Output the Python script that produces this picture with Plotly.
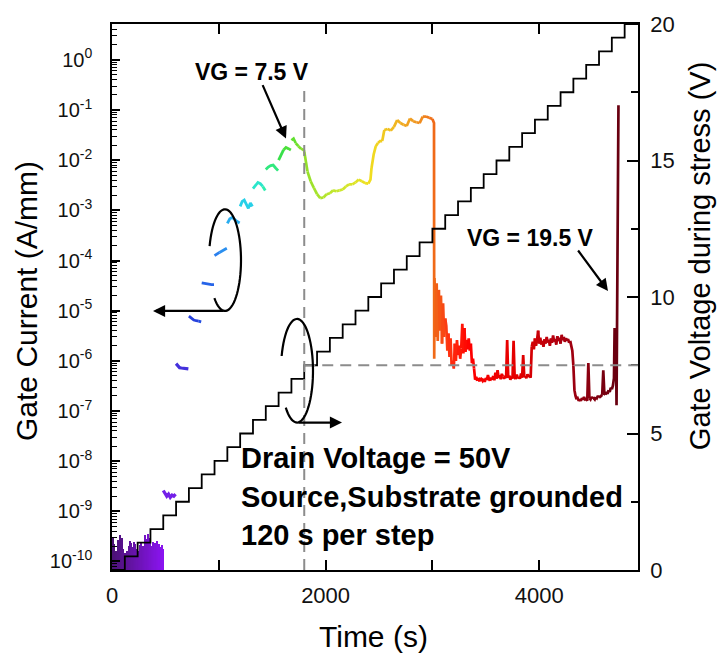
import numpy as np
import plotly.graph_objects as go

# ---------------- data ----------------
# staircase of the gate voltage during stress (right axis)
step_time = [0, 120, 240, 360, 480, 600, 720, 840, 960, 1080, 1200, 1320, 1440, 1560,
             1680, 1800, 1920, 2040, 2160, 2280, 2400, 2520, 2640, 2760, 2880, 3000,
             3120, 3240, 3360, 3480, 3600, 3720, 3840, 3960, 4080, 4200, 4320, 4440,
             4560, 4680, 4800, 4925]
step_voltage = [0, 0.5, 1.0, 1.5, 2.0, 2.5, 3.0, 3.5, 4.0, 4.5, 5.0, 5.5, 6.0, 6.5,
                7.0, 7.5, 8.0, 8.5, 9.0, 9.5, 10.0, 10.5, 11.0, 11.5, 12.0, 12.5,
                13.0, 13.5, 14.0, 14.5, 15.0, 15.5, 16.0, 16.5, 17.0, 17.5, 18.0, 18.5,
                19.0, 19.5, 20.0, 20.0]

# noise floor of the gate current, first 480 s (A/mm)
noise_time = list(range(0, 481, 12))
noise_current = [2.6e-10, 2.9e-10, 2.2e-10, 1.6e-10, 1.4e-10, 2.7e-10, 3.3e-10, 2.4e-10,
                 3.0e-10, 1.8e-10, 1.5e-10, 1.3e-10, 1.6e-10, 2.0e-10, 2.6e-10, 2.3e-10,
                 1.9e-10, 2.5e-10, 2.2e-10, 1.5e-10, 1.8e-10, 1.6e-10, 2.1e-10, 2.4e-10,
                 2.0e-10, 1.7e-10, 3.4e-10, 2.8e-10, 3.6e-10, 2.5e-10, 2.9e-10, 2.0e-10,
                 2.4e-10, 1.7e-10, 2.3e-10, 2.6e-10, 2.0e-10, 2.2e-10, 1.9e-10, 2.1e-10,
                 1.8e-10]

# separate pieces of gate current, one per voltage step (start time of the step)
early_start = [480, 600, 720, 840, 960, 1080, 1200, 1320, 1440, 1560]
early_current = [
    [2.6e-9, 2.3e-9, 2.0e-9, 2.2e-9, 1.9e-9, 2.1e-9, 2.0e-9, 2.2e-9],
    [8.8e-7, 7.8e-7, 7.3e-7, 7.2e-7, 7.1e-7, 7.0e-7, 7.1e-7, 6.9e-7],
    [7.8e-6, 7.0e-6, 6.5e-6, 6.3e-6, 6.2e-6, 6.0e-6],
    [3.6e-5, 3.5e-5, 3.4e-5, 3.4e-5, 3.3e-5, 3.3e-5],
    [1.25e-4, 1.35e-4, 1.45e-4, 1.55e-4, 1.65e-4, 1.75e-4],
    [5.5e-4, 6.8e-4, 7.2e-4, 6.5e-4, 6.0e-4, 5.6e-4],
    [1.2e-3, 1.5e-3, 1.6e-3, 1.3e-3, 1.1e-3, 1.4e-3, 1.2e-3],
    [2.7e-3, 3.2e-3, 3.6e-3, 3.4e-3, 3.0e-3, 2.5e-3],
    [6.5e-3, 7.3e-3, 7.8e-3, 8.0e-3, 7.0e-3, 6.2e-3],
    [1.0e-2, 1.3e-2, 1.6e-2, 1.8e-2, 1.7e-2, 1.6e-2],
]

# continuous gate current from 1680 s to the drop at ~3015 s
mid_time = [1680, 1700, 1720, 1745, 1770, 1795,
            1800, 1830, 1860, 1890, 1920, 1950, 1980, 2010, 2040, 2070, 2100, 2130,
            2160, 2190, 2220, 2250, 2280, 2310, 2340, 2370, 2400, 2420, 2430, 2450,
            2470, 2490, 2510, 2530, 2550, 2580, 2610, 2640, 2670, 2700, 2730, 2760,
            2790, 2820, 2850, 2880, 2910, 2940, 2970, 3000, 3010, 3015, 3017]
mid_current = [2.5e-2, 2.7e-2, 2.2e-2, 1.9e-2, 1.7e-2, 1.6e-2,
               1.5e-2, 6.0e-3, 3.8e-3, 2.8e-3, 2.1e-3, 1.75e-3, 1.8e-3, 2.1e-3, 2.2e-3,
               2.5e-3, 2.4e-3, 2.5e-3, 2.6e-3, 3.0e-3, 3.3e-3, 3.3e-3, 3.6e-3, 4.1e-3,
               3.8e-3, 3.5e-3, 3.4e-3, 4.1e-3, 7e-3, 1.3e-2, 1.9e-2, 2.2e-2, 2.4e-2,
               2.4e-2, 4.0e-2, 4.2e-2, 3.9e-2, 4.6e-2, 6.3e-2, 5.5e-2, 5.1e-2, 4.8e-2,
               6.8e-2, 6.0e-2, 5.7e-2, 5.5e-2, 7.4e-2, 7.4e-2, 7.0e-2, 6.6e-2, 6.0e-2,
               5.5e-2, 1.1e-6]

# noisy gate current after the drop, every 10 s from 3020 s
red_start = 3020
red_current = [
    4.5e-5, 3e-6, 3.5e-5, 2.5e-6, 2.6e-5, 4e-6, 2.0e-5, 2.2e-6, 1.4e-5, 3e-6, 7e-6,
    5e-6, 1.6e-6, 3.5e-6, 1.2e-6, 2.8e-6, 8e-7, 1.0e-6, 7e-7, 2.2e-6, 1.0e-6, 2.6e-6,
    1.3e-6, 2.0e-6, 1.1e-6, 1.8e-6, 5.5e-6, 1.4e-6, 4.5e-6, 1.5e-6, 2.6e-6, 1.7e-6,
    2.8e-6, 1.6e-6, 2.2e-6, 9e-7, 1.1e-6, 7e-7,
    4.2e-7, 4.8e-7, 4.0e-7, 4.5e-7, 3.9e-7, 4.6e-7, 4.3e-7, 4.0e-7, 4.4e-7, 3.8e-7,
    4.5e-7, 4.1e-7, 5.2e-7, 4.3e-7, 4.0e-7, 4.6e-7, 4.2e-7, 5.0e-7, 4.1e-7, 5.8e-7,
    4.4e-7, 6.5e-7, 4.6e-7, 5.2e-7, 4.3e-7, 5.5e-7, 4.8e-7, 4.4e-7, 5.0e-7, 4.5e-7,
    2.6e-6, 4.6e-7, 5.1e-7, 4.2e-7, 4.8e-7, 4.4e-7, 2.5e-6, 4.7e-7, 4.3e-7, 5.3e-7,
    4.5e-7, 4.9e-7, 4.4e-7, 5.6e-7, 4.6e-7, 1.3e-6, 4.8e-7, 5.0e-7, 4.5e-7, 5.4e-7,
    4.7e-7, 5.1e-7, 4.6e-7,
    1.9e-6, 2.4e-6, 1.7e-6, 2.8e-6, 2.0e-6, 2.6e-6, 4.0e-6, 2.2e-6, 2.9e-6, 2.1e-6,
    2.5e-6, 1.9e-6, 2.7e-6, 2.2e-6, 3.0e-6, 2.3e-6, 2.6e-6, 2.0e-6, 2.8e-6, 2.3e-6,
    3.2e-6, 2.4e-6, 2.7e-6, 2.1e-6, 3.1e-6, 2.5e-6, 2.9e-6, 2.2e-6, 3.3e-6, 2.6e-6,
    3.0e-6, 2.4e-6, 2.8e-6, 2.5e-6, 2.7e-6, 2.3e-6, 2.5e-6, 2.1e-6, 1.6e-6,
    8e-7, 2.6e-7, 2.0e-7, 1.7e-7, 1.8e-7, 1.6e-7, 1.75e-7, 1.6e-7, 1.8e-7, 1.65e-7,
    1.9e-7, 1.7e-7, 1.75e-7, 1.6e-7, 9e-7, 1.8e-7, 1.7e-7, 1.9e-7, 1.75e-7, 1.8e-7,
    1.7e-7, 1.9e-7, 1.8e-7, 2.0e-7, 1.85e-7, 1.9e-7, 2.0e-7, 2.1e-7, 6.5e-7, 2.2e-7,
    2.1e-7, 2.4e-7, 2.2e-7, 2.6e-7, 2.4e-7, 2.9e-7, 2.7e-7, 3.2e-7, 4.5e-7,
]

# breakdown at VG = 19.5 V
tail_time = [4706, 4712, 4718, 4724, 4730, 4734, 4742]
tail_current = [4.5e-6, 1.5e-6, 3.5e-6, 1.3e-7, 1.3e-4, 1.2e-4, 0.125]

# ---------------- layout constants ----------------
W, H = 718, 657
L, R, T, B = 112, 80, 22, 87
PW, PH = W - L - R, H - T - B
X_MAX = 4925
T_FULL = 4800
Y_LOG_RANGE = [-10.17, 0.715]
FONT = "Liberation Sans, Arial, sans-serif"


def px(x):
    return (x - L) / PW


def py(y):
    return (H - B - y) / PH


cscale = [
    (0.00, "#4a1272"), (0.10, "#8a14f0"), (0.125, "#5a2ae0"), (0.15, "#2a36d8"),
    (0.175, "#2252e2"), (0.20, "#2a78ee"), (0.225, "#2a9af0"), (0.25, "#28c2f0"),
    (0.275, "#28e0e0"), (0.30, "#30f0a8"), (0.325, "#30e050"), (0.35, "#58e030"),
    (0.375, "#90e028"), (0.44, "#c8e830"), (0.50, "#f0e020"), (0.55, "#f0b820"),
    (0.60, "#f09020"), (0.63, "#f06818"), (0.66, "#ff3010"), (0.70, "#ff0000"),
    (0.80, "#e00000"), (0.87, "#b00010"), (0.93, "#8a0010"), (1.00, "#600010"),
]


def hex_rgb(h):
    h = h.lstrip("#")
    return [int(h[i:i + 2], 16) for i in (0, 2, 4)]


def color_at(t):
    f = min(max(t / T_FULL, 0.0), 1.0)
    for (p0, c0), (p1, c1) in zip(cscale[:-1], cscale[1:]):
        if p0 <= f <= p1:
            a = (f - p0) / (p1 - p0) if p1 > p0 else 0
            r0, r1 = hex_rgb(c0), hex_rgb(c1)
            c = [round(r0[i] + a * (r1[i] - r0[i])) for i in range(3)]
            return "rgb(%d,%d,%d)" % tuple(c)
    return cscale[-1][1]


fig = go.Figure()

# noise floor as thin bars (go down to the bottom of the log axis)
fig.add_trace(go.Bar(
    x=noise_time, y=noise_current, width=12,
    marker=dict(color=[color_at(t) for t in noise_time], line=dict(width=0)),
    showlegend=False, hoverinfo="skip", yaxis="y"))


def add_colored_line(ts, vs, chunk=30, width=2.4):
    ts = list(ts)
    vs = list(vs)
    groups = {}
    order = []
    for i, t in enumerate(ts):
        k = int(t // chunk)
        if k not in groups:
            groups[k] = []
            order.append(k)
        groups[k].append(i)
    for gi, k in enumerate(order):
        idx = groups[k]
        if gi + 1 < len(order):
            idx = idx + [groups[order[gi + 1]][0]]
        xs = [ts[i] for i in idx]
        ys = [vs[i] for i in idx]
        fig.add_trace(go.Scatter(
            x=xs, y=ys, mode="lines",
            line=dict(color=color_at(np.mean(xs)), width=width),
            showlegend=False, hoverinfo="skip", yaxis="y"))


for start, vals in zip(early_start, early_current):
    tt = np.linspace(start, start + 115, len(vals))
    add_colored_line(tt, vals, chunk=200, width=3.2 if start < 700 else 2.8)

red_time = [red_start + 10 * i for i in range(len(red_current))]
cont_time = mid_time + red_time + tail_time
cont_current = mid_current + red_current + tail_current
add_colored_line(cont_time, cont_current, chunk=30, width=2.7)

# staircase gate voltage
fig.add_trace(go.Scatter(
    x=step_time, y=step_voltage, mode="lines", yaxis="y2",
    line=dict(color="black", width=1.8, shape="hv"),
    showlegend=False, hoverinfo="skip"))

# ---------------- decorations ----------------
shapes = []
grey = "#8c8c8c"
shapes.append(dict(type="line", xref="x", yref="paper", x0=1800, x1=1800,
                   y0=0, y1=py(88), line=dict(color=grey, width=2, dash="11px,7px")))
shapes.append(dict(type="line", xref="x", yref="y2", x0=1800, x1=X_MAX,
                   y0=7.5, y1=7.5, line=dict(color=grey, width=2, dash="11px,7px")))


def ellipse_path(cx, cy, rx, ry, a0, a1, n=60):
    ang = np.linspace(a0, a1, n)
    pts = [(px(cx + rx * np.cos(a)), py(cy + ry * np.sin(a))) for a in ang]
    return "M " + " L ".join("%.5f,%.5f" % p for p in pts)


shapes.append(dict(type="path", xref="paper", yref="paper",
                   path=ellipse_path(225, 259, 16, 51, 3.42, 8.58),
                   line=dict(color="black", width=2.2)))
shapes.append(dict(type="path", xref="paper", yref="paper",
                   path=ellipse_path(297, 370, 16, 52, 3.43, 8.63),
                   line=dict(color="black", width=2.2)))

ann = []


def arrow(hx, hy, tx, ty):
    ann.append(dict(xref="paper", yref="paper", x=px(hx), y=py(hy), ax=tx - hx, ay=ty - hy,
                    text="", showarrow=True, arrowhead=2, arrowsize=1.1, arrowwidth=2.2,
                    arrowcolor="black", standoff=0, startstandoff=0))


arrow(286, 137, 262, 82)
arrow(608, 290, 577, 248)
arrow(153, 310, 225, 310)
arrow(342, 422, 297, 422)


def text(x, y, s, size, xanchor="center", angle=0):
    ann.append(dict(xref="paper", yref="paper", x=px(x), y=py(y), text=s,
                    showarrow=False, xanchor=xanchor, yanchor="middle", textangle=angle,
                    font=dict(family=FONT, size=size, color="black")))


text(252, 70, "<b>VG = 7.5 V</b>", 23)
text(530, 237, "<b>VG = 19.5 V</b>", 23)
text(239, 458, "<b>Drain Voltage = 50V</b>", 29, xanchor="left")
text(239, 497, "<b>Source,Substrate grounded</b>", 29, xanchor="left")
text(239, 535, "<b>120 s per step</b>", 29, xanchor="left")
text(27, 300, "Gate Current (A/mm)", 30, angle=-90)
text(700, 255, "Gate Voltage during stress (V)", 29, angle=-90)
text(373, 637, "Time (s)", 30)

log_ticks = [1e-10, 1e-9, 1e-8, 1e-7, 1e-6, 1e-5, 1e-4, 1e-3, 1e-2, 1e-1, 1]
log_text = ["10<sup>%d</sup>" % round(np.log10(v)) for v in log_ticks]
minor_log = [k * 10.0 ** n for n in range(-11, 1) for k in range(2, 10)]

fig.update_layout(
    width=W, height=H, margin=dict(l=L, r=R, t=T, b=B, pad=0),
    paper_bgcolor="white", plot_bgcolor="white", bargap=0,
    font=dict(family=FONT, color="#111"),
    xaxis=dict(range=[0, X_MAX], tickvals=[0, 2000, 4000], ticks="inside", ticklen=10,
               tickwidth=1.5, tickcolor="black", showline=True, linecolor="black",
               linewidth=1.5, mirror="allticks", showgrid=False, zeroline=False,
               tickfont=dict(size=22), ticklabelstandoff=5,
               minor=dict(tickvals=[1000, 3000], ticks="inside", ticklen=5,
                          tickwidth=1.5, tickcolor="black", showgrid=False)),
    yaxis=dict(type="log", range=Y_LOG_RANGE, tickvals=log_ticks, ticktext=log_text,
               ticks="inside", ticklen=8, tickwidth=1.5, tickcolor="black",
               showline=True, linecolor="black", linewidth=1.5, mirror=False,
               showgrid=False, zeroline=False, tickfont=dict(size=20),
               ticklabelstandoff=14,
               minor=dict(tickvals=minor_log, ticks="inside", ticklen=5, tickwidth=1,
                          tickcolor="black", showgrid=False)),
    yaxis2=dict(overlaying="y", side="right", range=[0, 20],
                tickvals=[0, 5, 10, 15, 20], ticks="inside", ticklen=11, tickwidth=1.5,
                tickcolor="black", showline=True, linecolor="black", linewidth=1.5,
                showgrid=False, zeroline=False, tickfont=dict(size=22),
                ticklabelstandoff=6,
                minor=dict(tickvals=[2.5, 7.5, 12.5, 17.5], ticks="inside", ticklen=7,
                           tickwidth=1.5, tickcolor="black", showgrid=False)),
    shapes=shapes, annotations=ann,
)

fig.write_html("out.html")
